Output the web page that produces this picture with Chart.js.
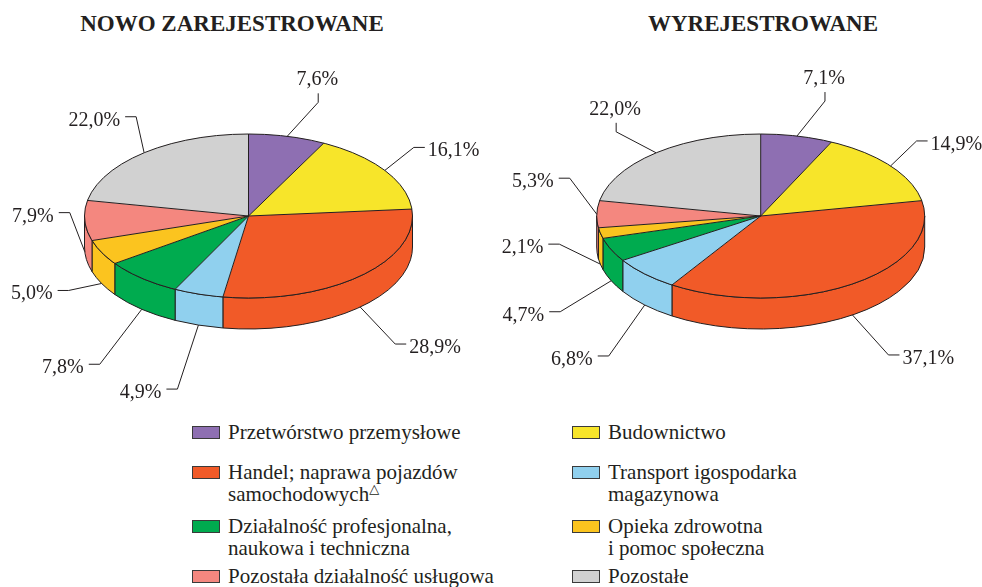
<!DOCTYPE html>
<html lang="pl"><head><meta charset="utf-8">
<script src="https://cdn.jsdelivr.net/npm/chart.js@4.4.1/dist/chart.umd.min.js"></script>
<style>
html,body{margin:0;padding:0;background:#fff;}
#wrap{position:relative;width:982px;height:587px;overflow:hidden;font-family:'Liberation Serif','Times New Roman',serif;color:#231f20;}
.ttl{position:absolute;top:12px;width:420px;margin-left:-210px;text-align:center;font-weight:bold;font-size:23px;line-height:23px;}
canvas{position:absolute;top:0;}
.lg{position:absolute;font-size:21px;line-height:22px;padding-left:36px;white-space:nowrap;}
.lg i{position:absolute;left:0;top:5px;width:26px;height:11px;border:1px solid #3a3a3a;}
.lg b{font-weight:normal;font-family:'DejaVu Sans',sans-serif;font-size:13px;position:relative;top:-8px;left:0;}
</style></head>
<body><div id="wrap">
<div class="ttl" style="left:232px">NOWO ZAREJESTROWANE</div>
<div class="ttl" style="left:763px">WYREJESTROWANE</div>
<canvas id="cNew" width="491" height="410" style="left:0"></canvas>
<canvas id="cOut" width="491" height="410" style="left:491px"></canvas>
<div id="legend"></div>
</div>
<script>
/* ── data ── */
const categories=['Przetwórstwo przemysłowe','Budownictwo','Handel; naprawa pojazdów\nsamochodowych△','Transport igospodarka\nmagazynowa','Działalność profesjonalna,\nnaukowa i techniczna','Opieka zdrowotna\ni pomoc społeczna','Pozostała działalność usługowa','Pozostałe'];
const newShares=[7.6,16.1,28.9,4.9,7.8,5.0,7.9,22.0];
const outShares=[7.1,14.9,37.1,6.8,4.7,2.1,5.3,22.0];
const colors=['#8e6fb2','#f7e52a','#f15a28','#90d0ee','#00ab4f','#fbc41f','#f4877f','#d1d1d1'];

/* ── look ── */
const INK='#231f20',TILT=0.5,DEPTH=31,LEAD=11;
// leader elbow offsets from the slice anchor: [dx,dy,direction of last stub]
const newLeaders=[[31,-34,'u'],[29,-23,'r'],[35,37,'r'],[-21,64,'l'],[-42,55,'l'],[-33,7,'l'],[-15,-39,'l'],[-8,-36,'l']];
const outLeaders=[[28,-35,'u'],[26,-25,'r'],[36,40,'r'],[-36,51,'l'],[-51,31,'l'],[-41,-20,'l'],[-27,-36,'l'],[-40,-21,'u']];

// side walls first, then squash the library's own pie into an ellipse
const tilt3d={id:'tilt3d',
  beforeDatasetsDraw(chart){
    const ctx=chart.ctx,arcs=chart.getDatasetMeta(0).data;
    const {x:cx,y:cy,outerRadius:R}=arcs[0],ry=R*TILT;
    ctx.save();ctx.strokeStyle=INK;ctx.lineWidth=1;ctx.lineJoin='round';
    arcs.forEach(a=>{
      const s=Math.max(a.startAngle,0),e=Math.min(a.endAngle,Math.PI);
      if(e<=s)return;
      ctx.beginPath();ctx.ellipse(cx,cy,R,ry,0,s,e);
      ctx.lineTo(cx+R*Math.cos(e),cy+DEPTH+ry*Math.sin(e));
      ctx.ellipse(cx,cy+DEPTH,R,ry,0,e,s,true);ctx.closePath();
      ctx.fillStyle=a.options.backgroundColor;ctx.fill();ctx.stroke();
    });
    ctx.restore();
    ctx.save();ctx.translate(0,cy);ctx.scale(1,TILT);ctx.translate(0,-cy);
  },
  afterDatasetsDraw(chart){
    const ctx=chart.ctx;ctx.restore();
    const arcs=chart.getDatasetMeta(0).data;
    const {x:cx,y:cy,outerRadius:R}=arcs[0],ry=R*TILT;
    ctx.save();ctx.strokeStyle=INK;ctx.lineWidth=1;
    ctx.beginPath();ctx.ellipse(cx,cy,R,ry,0,0,Math.PI*2);ctx.stroke();
    arcs.forEach(a=>{ctx.beginPath();ctx.moveTo(cx,cy);ctx.lineTo(cx+R*Math.cos(a.startAngle),cy+ry*Math.sin(a.startAngle));ctx.stroke();});
    ctx.restore();
  }
};
const fmt=v=>v.toFixed(1).replace('.',',')+'%';
function leaders(layout){return{id:'leaders',afterDraw(chart){
  const ctx=chart.ctx,arcs=chart.getDatasetMeta(0).data,vals=chart.data.datasets[0].data;
  const {x:cx,y:cy,outerRadius:R}=arcs[0],ry=R*TILT;
  ctx.save();ctx.strokeStyle=INK;ctx.fillStyle=INK;ctx.lineWidth=1;ctx.font="20px 'Liberation Serif'";
  arcs.forEach((a,i)=>{
    const m=(a.startAngle+a.endAngle)/2,front=Math.sin(m)>0;
    const ax=cx+R*Math.cos(m),ay=cy+ry*Math.sin(m)+(front?DEPTH:0);
    const [dx,dy,dir]=layout[i],ex=ax+dx,ey=ay+dy;
    const tx=dir==='u'?ex:ex+(dir==='r'?LEAD:-LEAD),ty=dir==='u'?ey-9:ey;
    ctx.beginPath();ctx.moveTo(ax,ay);ctx.lineTo(ex,ey);ctx.lineTo(tx,ty);ctx.stroke();
    if(dir==='u'){ctx.textAlign='center';ctx.fillText(fmt(vals[i]),ex-1,ty-8);}
    else{ctx.textAlign=dir==='r'?'left':'right';ctx.fillText(fmt(vals[i]),tx+(dir==='r'?3:-5),ty+9);}
  });
  ctx.restore();
}};}
function pie3d(id,values,padding,layout){
  return new Chart(document.getElementById(id),{type:'pie',
    data:{labels:categories,datasets:[{data:values,backgroundColor:colors,borderWidth:0,radius:164,clip:false}]},
    options:{responsive:false,animation:false,events:[],layout:{padding},plugins:{legend:{display:false},tooltip:{enabled:false}}},
    plugins:[tilt3d,leaders(layout)]});
}
pie3d('cNew',newShares,{left:26,right:20,top:42,bottom:20},newLeaders);
pie3d('cOut',outShares,{left:58.4,right:10,top:42,bottom:20},outLeaders);

/* ── legend (two columns, row-major) ── */
const lgCols=[192,572],lgRows=[421,461,515,565];
document.getElementById('legend').innerHTML=categories.map((c,i)=>{
  const txt=c.replace('△','<b>△</b>').split('\n').join('<br>');
  return `<div class="lg" style="left:${lgCols[i%2]}px;top:${lgRows[i>>1]}px"><i style="background:${colors[i]}"></i>${txt}</div>`;
}).join('');
</script>
</body></html>
